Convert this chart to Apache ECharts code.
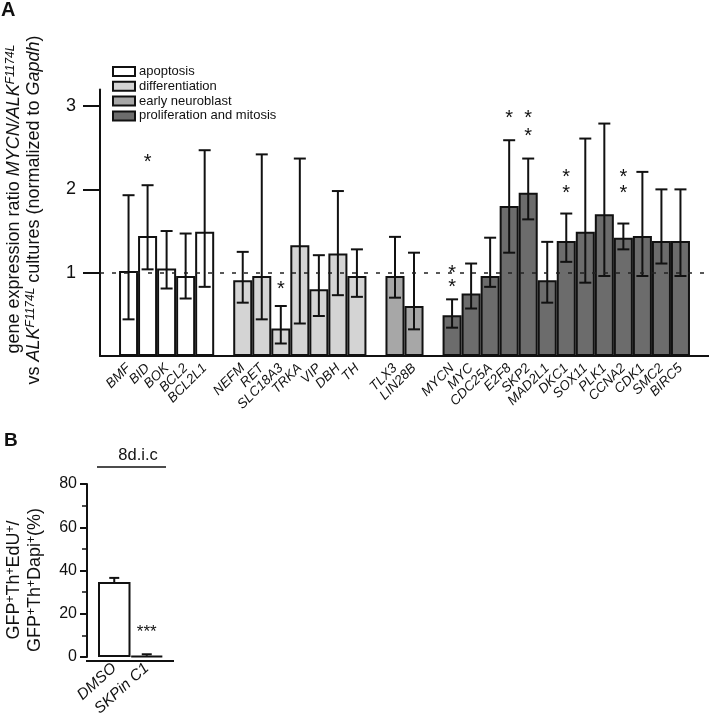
<!DOCTYPE html>
<html><head><meta charset="utf-8">
<script src="https://cdn.jsdelivr.net/npm/echarts@6/dist/echarts.min.js"></script>
<style>html,body{margin:0;padding:0;background:#fff}#c{width:709px;height:719px}</style>
</head><body><div id="c"></div>
<script>
// ---------- Panel A data ----------
const groups = ['apoptosis', 'differentiation', 'early neuroblast', 'proliferation and mitosis'];
const groupColors = ['#ffffff', '#d4d4d4', '#a7a7a7', '#6c6c6c'];
const apoptosisGenes = ['BMF', 'BID', 'BOK', 'BCL2', 'BCL2L1'];
const differentiationGenes = ['NEFM', 'RET', 'SLC18A3', 'TRKA', 'VIP', 'DBH', 'TH'];
const neuroblastGenes = ['TLX3', 'LIN28B'];
const proliferationGenes = ['MYCN', 'MYC', 'CDC25A', 'E2F8', 'SKP2', 'MAD2L1', 'DKC1', 'SOX11', 'PLK1', 'CCNA2', 'CDK1', 'SMC2', 'BIRC5'];

const apoptosisMean = [1.02, 1.44, 1.05, 0.96, 1.49];
const apoptosisLow  = [0.44, 1.04, 0.81, 0.69, 0.83];
const apoptosisHigh = [1.93, 2.05, 1.50, 1.47, 2.47];

const differentiationMean = [0.91, 0.96, 0.33, 1.33, 0.80, 1.23, 0.96];
const differentiationLow  = [0.64, 0.44, 0.15, 0.39, 0.48, 0.73, 0.71];
const differentiationHigh = [1.25, 2.42, 0.60, 2.37, 1.21, 1.98, 1.28];

const neuroblastMean = [0.96, 0.60];
const neuroblastLow  = [0.70, 0.32];
const neuroblastHigh = [1.43, 1.24];

const proliferationMean = [0.49, 0.75, 0.96, 1.80, 1.96, 0.91, 1.38, 1.49, 1.70, 1.42, 1.44, 1.38, 1.38];
const proliferationLow  = [0.34, 0.57, 0.83, 1.24, 1.64, 0.64, 1.13, 0.88, 0.96, 1.28, 0.96, 1.11, 0.96];
const proliferationHigh = [0.68, 1.11, 1.42, 2.59, 2.37, 1.37, 1.71, 2.61, 2.79, 1.59, 2.21, 2.00, 2.00];

// significance asterisks: gene and height (in axis units)
const starGenes  = ['BID', 'SLC18A3', 'MYCN', 'MYCN', 'E2F8', 'SKP2', 'SKP2', 'DKC1', 'DKC1', 'CCNA2', 'CCNA2'];
const starLevels = [2.37, 0.85, 1.04, 0.88, 2.90, 2.90, 2.69, 2.20, 2.00, 2.20, 2.00];

const yTicksA = [1, 2, 3];
const referenceLevel = 1;

// ---------- Panel B data ----------
const treatments = ['DMSO', 'SKPin C1'];
const edUMean = [34.7, 0.6];
const edUHigh = [36.6, 1.3];
const starB = '***';
const starBLevel = 13;
const bHeader = '8d.i.c';

// ---------- build category axis with spacer slots ----------
const groupGenes = [apoptosisGenes, differentiationGenes, neuroblastGenes, proliferationGenes];
const groupMeans = [apoptosisMean, differentiationMean, neuroblastMean, proliferationMean];
const groupLows = [apoptosisLow, differentiationLow, neuroblastLow, proliferationLow];
const groupHighs = [apoptosisHigh, differentiationHigh, neuroblastHigh, proliferationHigh];

const cats = [];
const catGroup = [];
const catMean = [], catLow = [], catHigh = [];
let sp = 0;
function spacer() { cats.push(' '.repeat(++sp)); catGroup.push(-1); catMean.push(null); catLow.push(null); catHigh.push(null); }
spacer();
groupGenes.forEach((gs, gi) => {
  gs.forEach((g, i) => {
    cats.push(g); catGroup.push(gi);
    catMean.push(groupMeans[gi][i]); catLow.push(groupLows[gi][i]); catHigh.push(groupHighs[gi][i]);
  });
  spacer();
});

const barSeries = groups.map((name, gi) => ({
  name: name,
  type: 'bar',
  xAxisIndex: 0, yAxisIndex: 0,
  barWidth: '100%',
  barGap: '-100%',
  z: 3,
  itemStyle: { color: groupColors[gi], borderColor: '#111', borderWidth: 2 },
  data: cats.map((c, ci) => catGroup[ci] === gi ? catMean[ci] : '-')
}));

const errData = [];
cats.forEach((c, ci) => { if (catGroup[ci] >= 0) errData.push([ci, catLow[ci], catHigh[ci]]); });

const starData = starGenes.map((g, i) => [cats.indexOf(g), starLevels[i]]);

function errRender(capHalf) {
  return function (params, api) {
    const lo = api.coord([api.value(0), api.value(1)]);
    const hi = api.coord([api.value(0), api.value(2)]);
    const st = { stroke: '#111', lineWidth: 2 };
    return { type: 'group', children: [
      { type: 'line', shape: { x1: lo[0], y1: lo[1], x2: hi[0], y2: hi[1] }, style: st },
      { type: 'line', shape: { x1: hi[0] - capHalf, y1: hi[1], x2: hi[0] + capHalf, y2: hi[1] }, style: st },
      { type: 'line', shape: { x1: lo[0] - capHalf, y1: lo[1], x2: lo[0] + capHalf, y2: lo[1] }, style: st }
    ]};
  };
}
function starRender(size) {
  return function (params, api) {
    const p = api.coord([api.value(0), api.value(1)]);
    return { type: 'text', x: p[0], y: p[1] + size * 0.22, style: {
      text: starTextFor(params.seriesName), fontSize: size, fontFamily: 'Liberation Sans, Arial', fill: '#111',
      align: 'center', verticalAlign: 'middle' } };
  };
}
function starTextFor(name) { return name === 'starsB' ? starB : '*'; }

const FONT = 'Liberation Sans, Arial, sans-serif';

const chart = echarts.init(document.getElementById('c'), null, { renderer: 'canvas' });
chart.setOption({
  animation: false,
  backgroundColor: '#fff',
  textStyle: { fontFamily: FONT },
  legend: {
    data: groups,
    orient: 'vertical',
    left: 107, top: 60,
    itemWidth: 22, itemHeight: 9,
    itemGap: 1.8,
    icon: 'rect',
    selectedMode: false,
    textStyle: { fontSize: 13, color: '#111', fontFamily: FONT, padding: [0, 0, 0, -1] }
  },
  grid: [
    { left: 100, top: 89.4, width: 609, height: 266.6 },
    { left: 98, top: 484, width: 65, height: 177 }
  ],
  xAxis: [
    { type: 'category', gridIndex: 0, data: cats, boundaryGap: true,
      axisLine: { lineStyle: { color: '#111', width: 2 } },
      axisTick: { show: false },
      axisLabel: { interval: 0, rotate: 45, fontStyle: 'italic', fontSize: 13.5, color: '#111', margin: 10,
        formatter: v => v.trim() } },
    { type: 'category', gridIndex: 1, data: treatments,
      axisLine: { show: false }, axisTick: { show: false },
      axisLabel: { interval: 0, rotate: 42, fontStyle: 'italic', fontSize: 15.5, color: '#111', margin: 9 } }
  ],
  yAxis: [
    { type: 'value', gridIndex: 0, min: 0, max: 3.2, interval: 1,
      axisLine: { show: true, lineStyle: { color: '#111', width: 2 } },
      axisTick: { show: true, length: 17, lineStyle: { color: '#111', width: 2 }, customValues: yTicksA },
      axisLabel: { fontSize: 18, color: '#111', margin: 24, customValues: yTicksA },
      splitLine: { show: false } },
    { type: 'value', gridIndex: 1, min: 0, max: 80, interval: 20, offset: 11,
      axisLine: { show: true, lineStyle: { color: '#111', width: 2 } },
      axisTick: { show: true, length: 7, lineStyle: { color: '#111', width: 2 } },
      minorTick: { show: true, splitNumber: 2, length: 5, lineStyle: { color: '#111', width: 1.5 } },
      axisLabel: { fontSize: 16, color: '#111', margin: 10 },
      splitLine: { show: false } }
  ],
  series: [
    { name: 'ref', type: 'line', xAxisIndex: 0, yAxisIndex: 0, data: [], z: 1,
      markLine: { silent: true, symbol: 'none', label: { show: false },
        lineStyle: { color: '#222', width: 1.5, type: [4, 8] },
        data: [{ yAxis: referenceLevel }] } },
    ...barSeries,
    { name: 'err', type: 'custom', xAxisIndex: 0, yAxisIndex: 0, z: 4, renderItem: errRender(6), data: errData },
    { name: 'stars', type: 'custom', xAxisIndex: 0, yAxisIndex: 0, z: 5, renderItem: starRender(20), data: starData },
    { name: 'edu', type: 'bar', xAxisIndex: 1, yAxisIndex: 1, barWidth: '100%', z: 3,
      itemStyle: { color: '#fff', borderColor: '#111', borderWidth: 2 }, data: edUMean },
    { name: 'eduErr', type: 'custom', xAxisIndex: 1, yAxisIndex: 1, z: 4,
      renderItem: function (params, api) {
        const lo = api.coord([api.value(0), api.value(1)]);
        const hi = api.coord([api.value(0), api.value(2)]);
        const st = { stroke: '#111', lineWidth: 2 };
        return { type: 'group', children: [
          { type: 'line', shape: { x1: lo[0], y1: lo[1], x2: hi[0], y2: hi[1] }, style: st },
          { type: 'line', shape: { x1: hi[0] - 5, y1: hi[1], x2: hi[0] + 5, y2: hi[1] }, style: st }
        ]};
      },
      data: treatments.map((t, i) => [i, edUMean[i], edUHigh[i]]) },
    { name: 'starsB', type: 'custom', xAxisIndex: 1, yAxisIndex: 1, z: 5, renderItem: starRender(17),
      data: [[1, starBLevel]] }
  ],
  graphic: [
    { type: 'text', left: 1, top: 0, style: { text: 'A', fontSize: 20, fontWeight: 'bold', fontFamily: FONT, fill: '#111' } },
    { type: 'text', left: 4, top: 431, style: { text: 'B', fontSize: 19, fontWeight: 'bold', fontFamily: FONT, fill: '#111' } },
    { type: 'text', x: 14, y: 199, rotation: Math.PI / 2,
      style: { text: 'gene expression ratio {i|MYCN/ALK}{sup|F1174L}', fontSize: 18, fontFamily: FONT, fill: '#111',
        align: 'center', verticalAlign: 'middle',
        rich: { i: { fontStyle: 'italic', fontSize: 18, fontFamily: FONT, fill: '#111' },
                sup: { fontStyle: 'italic', fontSize: 12, fontFamily: FONT, verticalAlign: 'top', fill: '#111' } } } },
    { type: 'text', x: 34, y: 210, rotation: Math.PI / 2,
      style: { text: 'vs {i|ALK}{sup|F1174L} cultures (normalized to {i|Gapdh})', fontSize: 18, fontFamily: FONT, fill: '#111',
        align: 'center', verticalAlign: 'middle',
        rich: { i: { fontStyle: 'italic', fontSize: 18, fontFamily: FONT, fill: '#111' },
                sup: { fontStyle: 'italic', fontSize: 12, fontFamily: FONT, verticalAlign: 'top', fill: '#111' } } } },
    { type: 'text', x: 14, y: 580, rotation: Math.PI / 2,
      style: { text: 'GFP{sup|+}Th{sup|+}EdU{sup|+}/', fontSize: 18, fontFamily: FONT, fill: '#111',
        align: 'center', verticalAlign: 'middle',
        rich: { sup: { fontSize: 12, fontFamily: FONT, verticalAlign: 'top', fill: '#111' } } } },
    { type: 'text', x: 35, y: 580, rotation: Math.PI / 2,
      style: { text: 'GFP{sup|+}Th{sup|+}Dapi{sup|+}(%)', fontSize: 18, fontFamily: FONT, fill: '#111',
        align: 'center', verticalAlign: 'middle',
        rich: { sup: { fontSize: 12, fontFamily: FONT, verticalAlign: 'top', fill: '#111' } } } },
    { type: 'text', x: 138, y: 455, style: { text: bHeader, fontSize: 16.5, fontFamily: FONT, fill: '#111', align: 'center', verticalAlign: 'middle' } },
    { type: 'line', shape: { x1: 97, y1: 467, x2: 166, y2: 467 }, style: { stroke: '#111', lineWidth: 1.5 } },
    { type: 'line', shape: { x1: 86, y1: 661, x2: 174, y2: 661 }, style: { stroke: '#111', lineWidth: 2 } }
  ]
});
</script></body></html>
